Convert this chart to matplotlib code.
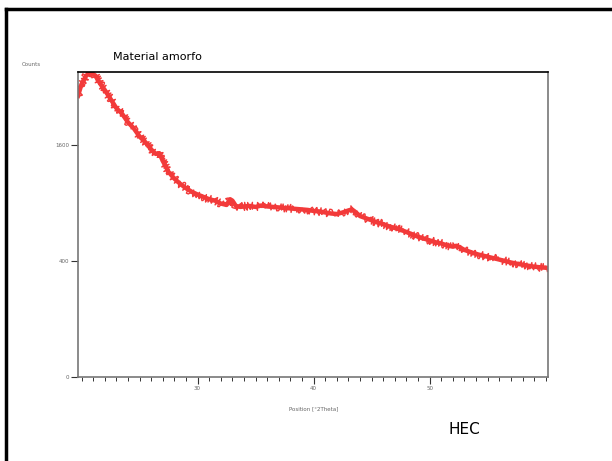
import numpy as np
import matplotlib.pyplot as plt
from matplotlib.lines import Line2D
from matplotlib.ticker import MultipleLocator

# diffractogram (position in deg 2theta, counts)
two_theta = [19.7, 20.0, 20.4, 20.8, 21.2, 21.6, 22.0, 22.5, 23.0, 23.5, 24.0,
             24.5, 25.0, 25.5, 26.0, 26.4, 26.7, 27.0, 27.5, 28.0, 28.5, 29.0,
             29.5, 30.0, 30.5, 31.0, 31.5, 32.0, 32.5, 32.8, 33.0, 33.3, 33.7,
             34.0, 34.5, 35.0, 35.5, 36.0, 36.5, 37.0, 37.5, 38.0, 38.5, 39.0,
             39.5, 40.0, 40.5, 41.0, 41.5, 42.0, 42.5, 43.0, 43.3, 43.6, 44.0,
             44.5, 45.0, 45.5, 46.0, 46.5, 47.0, 47.5, 48.0, 48.5, 49.0, 49.5,
             50.0, 50.5, 51.0, 51.5, 52.0, 52.3, 52.6, 53.0, 53.5, 54.0, 54.5,
             55.0, 55.5, 56.0, 56.5, 57.0, 57.5, 58.0, 58.5, 59.0, 59.5, 60.0,
             60.2]
counts = [2350, 2550, 2700, 2760, 2700, 2560, 2450, 2300, 2150, 2060, 1930,
          1840, 1720, 1640, 1540, 1480, 1490, 1390, 1250, 1170, 1110, 1060,
          1020, 990, 965, 940, 925, 895, 880, 940, 925, 870, 860,
          865, 870, 860, 875, 865, 860, 855, 850, 845, 840, 835,
          830, 820, 815, 805, 795, 790, 805, 825, 835, 810, 770,
          750, 730, 710, 695, 675, 660, 645, 625, 605, 585, 570,
          555, 540, 530, 515, 505, 512, 500, 480, 465, 450, 440,
          430, 420, 410, 400, 390, 382, 375, 368, 362, 358, 355,
          352]

y_ticks = [0, 400, 1600]
x_ticks = [30, 40, 50]

fig = plt.figure(figsize=(6.12, 4.61), dpi=100)
ax = fig.add_axes([0.1275, 0.1822, 0.768, 0.6616])

red = '#f23a3a'
ax.plot(two_theta, counts, color=red, lw=3.2, solid_joinstyle='round')
# rough a thin copy up so the trace reads like the noisy scan
line, = ax.plot(two_theta, counts, color=red, lw=1.0)
line.set_sketch_params(scale=4, length=1.5, randomness=6)

# square root counts axis like the diffractometer software
ax.set_yscale('function', functions=(np.sqrt, lambda v: np.square(v)))
ax.set_ylim(0, 2766)
ax.set_xlim(19.7, 60.2)

ax.set_yticks(y_ticks)
ax.set_yticklabels([str(v) for v in y_ticks])
ax.set_xticks(x_ticks)
ax.xaxis.set_minor_locator(MultipleLocator(1))
ax.yaxis.set_minor_locator(plt.NullLocator())
ax.tick_params(axis='both', which='major', labelsize=4, labelcolor='#666666',
               length=5, width=0.8, color='#333333', pad=1.5)
ax.tick_params(axis='x', which='minor', length=3, width=0.7, color='#333333')

for side in ['left', 'bottom', 'right']:
    ax.spines[side].set_color('#777777')
    ax.spines[side].set_linewidth(1.2)
ax.spines['top'].set_color('black')
ax.spines['top'].set_linewidth(1.2)

fig.text(22 / 612, 1 - 64 / 461, 'Counts', fontsize=4, color='#666666',
         va='center', ha='left')
fig.text(314 / 612, 1 - 409 / 461, 'Position [°2Theta]', fontsize=4,
         color='#666666', va='center', ha='center')
fig.text(113 / 612, 1 - 57 / 461, 'Material amorfo', fontsize=8,
         va='center', ha='left')
fig.text(449 / 612, 1 - 429 / 461, 'HEC', fontsize=11, va='center', ha='left')

# slide frame around the chart
fig.add_artist(Line2D([6 / 612, 6 / 612], [0, 1 - 9 / 461], color='black',
                      lw=2.5, transform=fig.transFigure))
fig.add_artist(Line2D([6 / 612, 1], [1 - 9 / 461, 1 - 9 / 461], color='black',
                      lw=2.5, transform=fig.transFigure))

fig.savefig('out.png', dpi=100)
